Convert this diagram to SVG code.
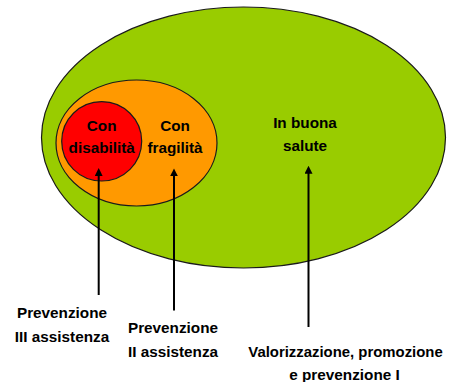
<svg xmlns="http://www.w3.org/2000/svg" width="449" height="382" viewBox="0 0 449 382">
<style>
.t{font-family:"Liberation Sans",Arial,sans-serif;font-weight:bold;fill:#000;text-anchor:middle}
.in{font-size:15.3px}
.out{font-size:15.3px}
.c{stroke:#000;stroke-width:2;fill:none}
</style>
<defs>
<marker id="ah" viewBox="0 0 10 10" refX="2" refY="5" markerWidth="4" markerHeight="4" orient="auto" markerUnits="strokeWidth">
<path d="M0,0 L10,5 L0,10 z" fill="#000"/>
</marker>
</defs>
<rect width="449" height="382" fill="#fff"/>
<g id="in-buona-salute">
<ellipse cx="243.5" cy="137.5" rx="202" ry="130.5" fill="#99cc00" stroke="#1a1a1a" stroke-width="1.2"/>
<text class="t in" x="305" y="128">In buona</text>
<text class="t in" x="305" y="151">salute</text>
</g>
<g id="con-fragilita">
<ellipse cx="136.5" cy="143" rx="80.5" ry="63" fill="#ff9900" stroke="#1a1a1a" stroke-width="1.2"/>
<text class="t in" x="175" y="131">Con</text>
<text class="t in" x="175" y="153">fragilità</text>
</g>
<g id="con-disabilita">
<ellipse cx="101.7" cy="141.3" rx="40" ry="39.7" fill="#ff0000" stroke="#1a1a1a" stroke-width="1.2"/>
<text class="t in" x="101.7" y="131">Con</text>
<text class="t in" x="101.7" y="153">disabilità</text>
</g>
<g id="connectors">
<line class="c" x1="98.7" y1="295" x2="98.7" y2="174.5" marker-end="url(#ah)"/>
<line class="c" x1="174" y1="310.5" x2="174" y2="174.8" marker-end="url(#ah)"/>
<line class="c" x1="308.5" y1="327" x2="308.5" y2="172.2" marker-end="url(#ah)"/>
</g>
<g id="label-prevenzione-iii">
<text class="t out" x="62" y="318">Prevenzione</text>
<text class="t out" x="62" y="342">III assistenza</text>
</g>
<g id="label-prevenzione-ii">
<text class="t out" x="173" y="333">Prevenzione</text>
<text class="t out" x="173" y="357">II assistenza</text>
</g>
<g id="label-prevenzione-i">
<text class="t out" x="345.5" y="357" style="font-size:14.9px">Valorizzazione, promozione</text>
<text class="t out" x="344.5" y="380">e prevenzione I</text>
</g>
</svg>
